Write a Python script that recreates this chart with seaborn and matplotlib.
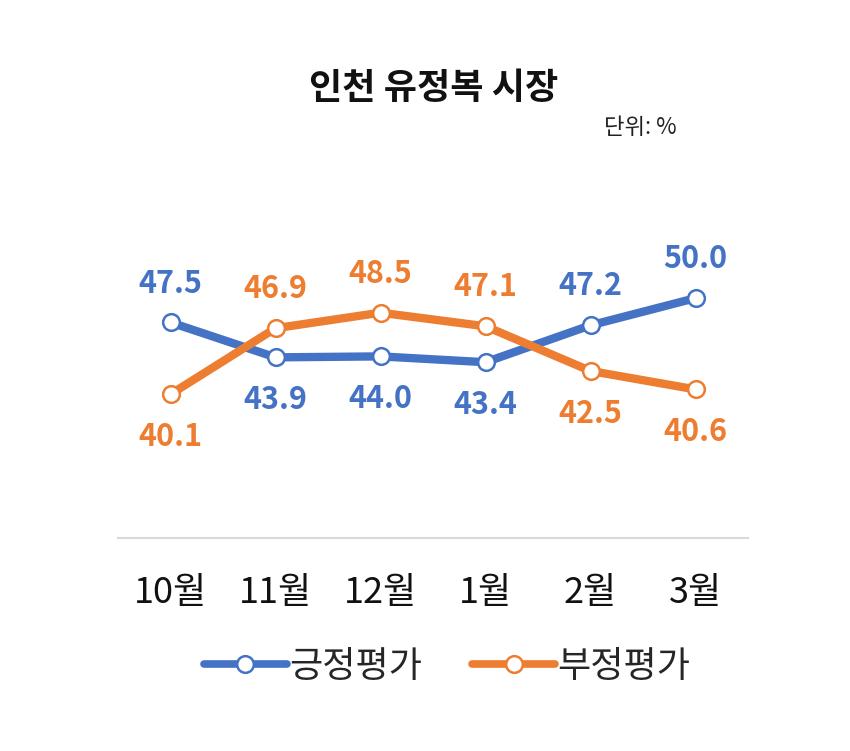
import pandas as pd
import numpy as np
import matplotlib.pyplot as plt
import seaborn as sns
from matplotlib.lines import Line2D

# data
months = ["10월", "11월", "12월", "1월", "2월", "3월"]
positive = [47.5, 43.9, 44.0, 43.4, 47.2, 50.0]
negative = [40.1, 46.9, 48.5, 47.1, 42.5, 40.6]
pos_above = [True, False, False, False, True, True]
neg_above = [False, True, True, True, False, False]

df = pd.DataFrame({"month": months * 2,
                   "value": positive + negative,
                   "series": ["긍정평가"] * 6 + ["부정평가"] * 6})

sns.set_theme(style="white")
plt.rcParams['font.family'] = ['Noto Sans CJK KR', 'DejaVu Sans']

blue, orange = "#4472C4", "#ED7D31"

fig = plt.figure(figsize=(8.5, 7.51), dpi=100)
ax = fig.add_axes([118/850, (751-538)/751, 630/850, (538-201)/751])

sns.lineplot(data=df, x="month", y="value", hue="series", palette=[blue, orange],
             linewidth=6, marker="o", markersize=12, markerfacecolor="white",
             markeredgewidth=1.8, legend=False, ax=ax, sort=False)
for ln, c in zip(ax.lines, [blue, orange]):
    ln.set_markeredgecolor(c)
    ln.set_solid_capstyle("round")

ax.set_xlim(-0.5, 5.5)
ax.set_ylim(25.3, 60)

for vals, above, c in [(positive, pos_above, blue), (negative, neg_above, orange)]:
    for i, (v, a) in enumerate(zip(vals, above)):
        ax.annotate(f"{v:.1f}", (i, v), xytext=(0, 28 if a else -31), textcoords="offset points",
                    ha="center", va="center", fontsize=22, fontweight="bold", color=c)

ax.set_xlabel("")
ax.set_ylabel("")
ax.set_yticks([])
ax.tick_params(axis="x", length=0, labelsize=26, pad=27, labelcolor="#111111")
for s in ["top", "left", "right"]:
    ax.spines[s].set_visible(False)
ax.spines["bottom"].set_color("#D9D9D9")
ax.spines["bottom"].set_linewidth(1.5)

fig.text(434/850, 1 - 88/751, "인천 유정복 시장", ha="center", va="center",
         fontsize=26, fontweight="bold", color="#111111")
fig.text(640/850, 1 - 127/751, "단위: %", ha="center", va="center", fontsize=16, color="#222222")

handles = [Line2D([], [], color=c, linewidth=5.5, marker="o", markersize=12,
                  markerfacecolor="white", markeredgecolor=c, markeredgewidth=1.8,
                  solid_capstyle="round") for c in [blue, orange]]
fig.legend(handles, ["긍정평가", "부정평가"], loc="center", bbox_to_anchor=(447/850, 1 - 667/751),
           ncol=2, frameon=False, fontsize=26, handlelength=2.3, handletextpad=0.05,
           columnspacing=1.4)

fig.savefig("out.png", dpi=100, facecolor="white")
